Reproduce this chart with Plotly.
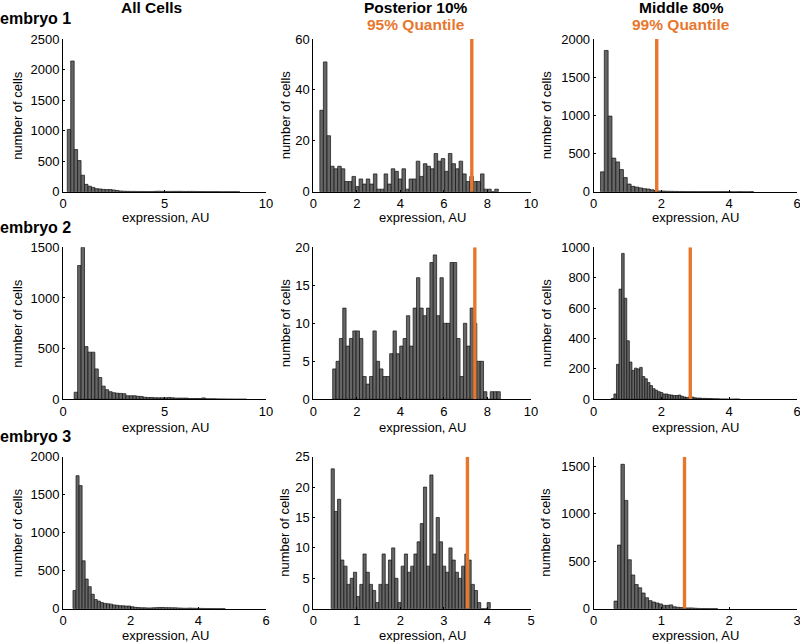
import plotly.graph_objects as go

W, H = 800, 642

# histogram counts, row = embryo, column = all cells / posterior / middle
e1_all = [1020, 2140, 690, 510, 270, 120, 90, 70, 50, 45, 38, 35, 35, 28, 20, 12, 8, 6, 5, 5, 4, 4, 4, 3, 4, 6, 8,
          6, 5, 5, 5, 6, 6, 5, 4, 5, 5, 4, 3, 3, 2, 2, 2, 2, 1, 1, 1, 1, 1, 1]
e1_post = [32, 51, 22, 10, 9, 10, 9, 4, 4, 6, 2, 5, 3, 5, 3, 7, 1, 1, 7, 3, 9, 8, 5, 9, 1, 5, 5, 12, 6, 11, 10, 9, 15,
           12, 13, 8, 15, 11, 9, 12, 7, 4, 6, 4, 4, 7, 1, 1, 0, 1]
e1_mid = [260, 1850, 990, 440, 390, 290, 185, 100, 70, 60, 50, 40, 35, 25, 15, 10, 8, 6, 5, 4, 3, 3, 2, 2, 2, 1, 1, 1,
          1, 1, 1, 1, 1, 1, 0, 0, 1, 0, 0, 1]
e2_all = [70, 1320, 1500, 520, 465, 465, 300, 215, 130, 95, 75, 65, 60, 58, 55, 35, 35, 35, 30, 28, 20, 18, 18, 15,
          15, 15, 15, 18, 15, 12, 12, 12, 12, 8, 8, 8, 8, 14, 6, 5, 5, 4, 3, 3, 2, 2, 1, 1, 1, 1]
e2_post = [4, 5, 8, 12, 7, 8, 9, 9, 8, 3, 2, 3, 9, 5, 4, 3, 3, 6, 9, 6, 7, 8, 11, 7, 12, 16, 12, 11, 12, 18, 19, 11,
           16, 10, 10, 18, 18, 8, 3, 10, 7, 12, 10, 5, 5, 1, 0, 1, 1, 1]
e2_mid = [5, 35, 230, 725, 960, 665, 385, 245, 190, 205, 200, 210, 150, 135, 110, 90, 70, 60, 50, 45, 35, 35, 30, 28,
          25, 25, 28, 20, 15, 12, 15, 15, 10, 8, 8, 6, 6, 5, 5, 4, 3, 3, 2, 2, 2, 1, 1, 1, 2, 1]
e3_all = [240, 1750, 1620, 630, 390, 290, 190, 120, 100, 80, 70, 65, 60, 50, 45, 40, 38, 35, 35, 25, 18, 15, 12, 12,
          10, 10, 12, 14, 16, 16, 14, 14, 12, 12, 10, 8, 6, 6, 8, 6, 5, 4, 4, 3, 2, 2, 1, 1, 1, 1]
e3_post = [23, 16, 18, 8, 7, 4, 5, 6, 2, 4, 9, 6, 4, 3, 1, 4, 9, 4, 8, 10, 5, 1, 7, 9, 6, 7, 9, 11, 14, 20, 7, 22, 9,
           15, 11, 7, 6, 10, 8, 6, 5, 7, 9, 8, 4, 3, 1, 0, 0, 1]
e3_mid = [80, 670, 1520, 1140, 515, 355, 255, 220, 165, 115, 85, 70, 60, 50, 35, 35, 40, 20, 15, 12, 8, 8, 8, 5, 3, 2,
          2, 1, 1, 1]

counts = [e1_all, e1_post, e1_mid, e2_all, e2_post, e2_mid, e3_all, e3_post, e3_mid]
bin_start = [0.21, 0.3, 0.2, 0.55, 0.89, 0.52, 0.295, 0.41, 0.3]
bin_width = [0.17, 0.164, 0.113, 0.17, 0.154, 0.076, 0.09, 0.0731, 0.051]

x_max = [10, 10, 6, 10, 10, 6, 6, 5, 3]
y_max = [2500, 60, 2000, 1500, 20, 1000, 2000, 25, 1600]
x_ticks = [[0, 5, 10], [0, 2, 4, 6, 8, 10], [0, 2, 4, 6],
           [0, 5, 10], [0, 2, 4, 6, 8, 10], [0, 2, 4, 6],
           [0, 2, 4, 6], [0, 1, 2, 3, 4, 5], [0, 1, 2, 3]]
y_ticks = [[0, 500, 1000, 1500, 2000, 2500], [0, 20, 40, 60], [0, 500, 1000, 1500, 2000],
           [0, 500, 1000, 1500], [0, 5, 10, 15, 20], [0, 200, 400, 600, 800, 1000],
           [0, 500, 1000, 1500, 2000], [0, 5, 10, 15, 20, 25], [0, 500, 1000, 1500]]

# orange quantile line, None for the all cells column
quantile = [None, 7.28, 1.86, None, 7.42, 2.85, None, 3.54, 1.34]

col_titles = ["All Cells", "Posterior 10%", "Middle 80%"]
col_notes = ["", "95% Quantile", "99% Quantile"]
row_titles = ["embryo 1", "embryo 2", "embryo 3"]

# axes boxes in pixels
col_px = [(63, 266), (313.3, 531), (593.7, 797)]
row_px = [(39, 191.7), (247.3, 399.3), (456.7, 608.7)]
col_title_x = [151, 415.7, 681]
row_title_y = [18, 227, 436]
xlabel_x = [165, 422.7, 695]
xlabel_y = [218, 427, 635.7]
ylabel_x = [17.5, 285, 546]

FONT = "Liberation Sans, Arial, sans-serif"
ORANGE = "#E8772E"

fig = go.Figure()
layout_axes = {}

for i in range(9):
    row, col = i // 3, i % 3
    sfx = "" if i == 0 else str(i + 1)
    xa, ya = "x" + sfx, "y" + sfx

    fig.add_trace(go.Bar(x0=bin_start[i] + bin_width[i] / 2, dx=bin_width[i], y=counts[i], width=bin_width[i],
                         marker=dict(color="#666666", line=dict(color="#111111", width=0.7)),
                         xaxis=xa, yaxis=ya, showlegend=False))
    if quantile[i] is not None:
        fig.add_trace(go.Scatter(x=[quantile[i], quantile[i]], y=[0, y_max[i]], mode="lines",
                                 line=dict(color=ORANGE, width=3.4), xaxis=xa, yaxis=ya, showlegend=False))

    # the last label of the right column sits on the page edge
    layout_axes["xaxis" + sfx] = dict(
        domain=[col_px[col][0] / W, col_px[col][1] / W], range=[0, x_max[i]], anchor=ya,
        tickvals=x_ticks[i], ticks="inside", ticklen=2, tickwidth=1, tickcolor="black", ticklabeloverflow="allow",
        showline=True, linecolor="black", linewidth=1.3, showgrid=False, zeroline=False, automargin=False)
    layout_axes["yaxis" + sfx] = dict(
        domain=[1 - row_px[row][1] / H, 1 - row_px[row][0] / H], range=[0, y_max[i]], anchor=xa,
        tickvals=y_ticks[i], ticks="inside", ticklen=2, tickwidth=1, tickcolor="black",
        showline=True, linecolor="black", linewidth=1, showgrid=False, zeroline=False, automargin=False)

notes = []
for c in range(3):
    notes.append(dict(text="<b>" + col_titles[c] + "</b>", x=col_title_x[c] / W, xanchor="center", y=1 - 7.5 / H,
                      font=dict(size=15.5)))
    if col_notes[c]:
        notes.append(dict(text="<b>" + col_notes[c] + "</b>", x=col_title_x[c] / W, xanchor="center", y=1 - 24.5 / H,
                          font=dict(size=15.5, color=ORANGE)))
for r in range(3):
    notes.append(dict(text="<b>" + row_titles[r] + "</b>", x=-2 / W, xanchor="left", y=1 - row_title_y[r] / H,
                      font=dict(size=16)))
    for c in range(3):
        notes.append(dict(text="expression, AU", x=xlabel_x[c] / W, xanchor="center", y=1 - xlabel_y[r] / H,
                          font=dict(size=13)))
        notes.append(dict(text="number of cells", x=ylabel_x[c] / W, xanchor="center", textangle=-90,
                          y=1 - sum(row_px[r]) / 2 / H, font=dict(size=13)))
for n in notes:
    n.update(xref="paper", yref="paper", yanchor="middle", showarrow=False)

fig.update_layout(width=W, height=H, margin=dict(l=0, r=0, t=0, b=0), autosize=False,
                  paper_bgcolor="white", plot_bgcolor="white", barmode="overlay",
                  font=dict(family=FONT, size=13, color="black"),
                  annotations=notes, **layout_axes)

# page margin would push the figure 8px off
fig.write_html("out.html", config={"displayModeBar": False}, post_script="document.body.style.margin = '0';")
